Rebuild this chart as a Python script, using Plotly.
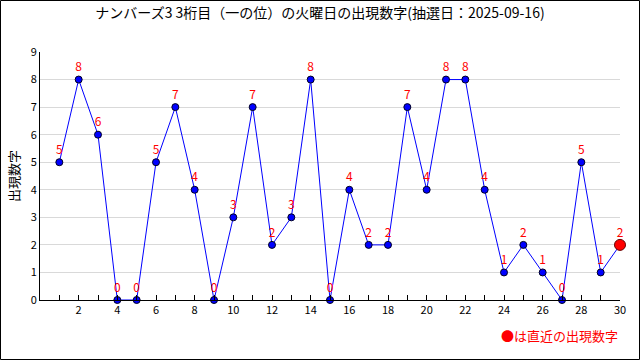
import plotly.graph_objects as go

draws = list(range(1, 31))
digits = [5, 8, 6, 0, 0, 5, 7, 4, 0, 3, 7, 2, 3, 8, 0, 4, 2, 2, 7, 4, 8, 8, 4, 1, 2, 1, 0, 5, 1, 2]
x_tick_vals = list(range(2, 31, 2))
y_tick_vals = list(range(0, 10))
title_text = "ナンバーズ3 3桁目（一の位）の火曜日の出現数字(抽選日：2025-09-16)"
legend_text = "●は直近の出現数字"
y_title = "出現数字"

FONT = "Noto Sans CJK JP"
W, H = 640, 360
ML, MR, MT, MB = 40, 20, 52, 60
pw, ph = W - ML - MR, H - MT - MB

fig = go.Figure()
fig.add_trace(go.Scatter(
    x=draws, y=digits, mode="lines+markers+text",
    line=dict(color="#0000ff", width=1),
    marker=dict(color="#0000ff", size=7, line=dict(color="#000022", width=1)),
    text=[str(d) for d in digits], textposition="top center",
    textfont=dict(color="#ff0000", size=12, family=FONT),
    cliponaxis=False, hoverinfo="skip", showlegend=False,
))
fig.add_trace(go.Scatter(
    x=[draws[-1]], y=[digits[-1]], mode="markers",
    marker=dict(color="#ff0000", size=11, line=dict(color="#660000", width=1)),
    cliponaxis=False, hoverinfo="skip", showlegend=False,
))

fig.update_layout(
    width=W, height=H,
    margin=dict(l=ML, r=MR, t=MT, b=MB),
    paper_bgcolor="white", plot_bgcolor="white",
    font=dict(family=FONT, size=11, color="#000000"),
    title=dict(text=title_text, x=0.5, xanchor="center", y=1 - 13 / H, yanchor="middle",
               font=dict(size=14, family=FONT, color="#000000")),
    xaxis=dict(range=[0, 30], tickvals=x_tick_vals, ticks="inside", ticklen=5,
               tickcolor="#000000", showline=True, linecolor="#000000", linewidth=1,
               showgrid=False, zeroline=False,
               minor=dict(tickvals=draws, ticks="inside", ticklen=5, tickcolor="#000000"),
               tickfont=dict(size=11, family=FONT)),
    yaxis=dict(range=[0, 9], tickvals=y_tick_vals, ticks="", showline=True,
               linecolor="#000000", linewidth=1, showgrid=True, gridcolor="#d9d9d9",
               zeroline=False, tickfont=dict(size=11, family=FONT),
               title=dict(text=y_title, font=dict(size=13, family=FONT), standoff=8)),
    shapes=[dict(type="rect", xref="paper", yref="paper",
                 x0=(-ML + 0.5) / pw, x1=1 + (MR - 0.5) / pw,
                 y0=(-MB + 0.5) / ph, y1=1 + (MT - 0.5) / ph,
                 line=dict(color="#000000", width=1))],
    annotations=[dict(text=legend_text, xref="paper", yref="paper",
                      x=1, y=-35 / ph, xanchor="right", yanchor="middle", showarrow=False,
                      font=dict(color="#ff0000", size=13, family=FONT))],
)

fig.write_html("out.html", config={"displayModeBar": False},
               post_script="document.body.style.margin='0';document.body.style.padding='0';")
